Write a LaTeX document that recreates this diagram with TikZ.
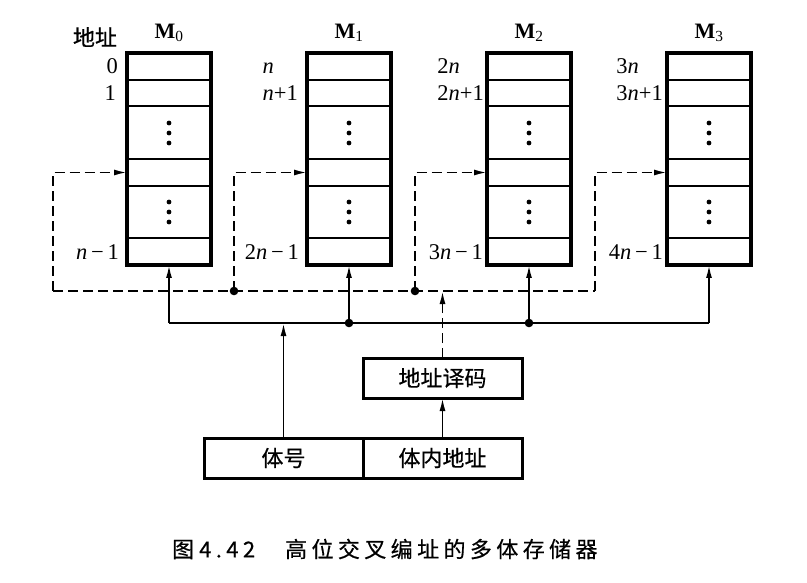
\documentclass[tikz,border=0pt]{standalone}
\usepackage{fontspec}
\setmainfont{Liberation Serif}
\newfontfamily\cjk[FakeBold=0.5]{Noto Sans CJK SC}
\newfontfamily\cjkcap[LetterSpace=20,FakeBold=0.5]{Noto Sans CJK SC}
\usetikzlibrary{arrows.meta}
\newcommand\nn{\textit{n}}
\begin{document}
\begin{tikzpicture}[x=1pt,y=-1pt,
  bank/.style={draw,line width=3.2pt,minimum width=84pt,minimum height=212pt,inner sep=0pt,outer sep=0pt},
  cell/.style={draw,line width=2.2pt,minimum width=84pt,inner sep=0pt,outer sep=0pt},
  lab/.style={font=\fontsize{22.5}{26}\selectfont,inner sep=0pt,text height=15pt,text depth=0pt},
  mlab/.style={font=\fontsize{22}{26}\selectfont,inner sep=0pt},
  cjklab/.style={font=\cjk\fontsize{22}{26}\selectfont,inner sep=0pt},
  fbox/.style={draw,line width=3pt,minimum width=159pt,minimum height=40pt,inner sep=0pt,outer sep=0pt,font=\cjk\fontsize{22}{26}\selectfont},
  conn/.style={line width=1.8pt},
  dashline/.style={line width=1.8pt,dash pattern=on 10pt off 5pt},
  arr/.style={-{Latex[length=13pt,width=6pt]}},
  jdot/.style={fill=black}
]
\useasboundingbox (0,0) rectangle (807,583);
\fill[white] (0,0) rectangle (807,583);

% memory banks
\foreach \i/\x in {0/169,1/349,2/529,3/709}{
  \node[cell,minimum height=27pt] (ra\i) at (\x,66.5) {};
  \node[cell,minimum height=26pt] (rb\i) at (\x,93) {};
  \node[cell,minimum height=53pt] (rc\i) at (\x,132.5) {};
  \node[cell,minimum height=27pt] (t\i) at (\x,172.5) {};
  \node[cell,minimum height=52pt] (rd\i) at (\x,212) {};
  \node[cell,minimum height=27pt] (re\i) at (\x,251.5) {};
  \node[bank] (m\i) at (\x,159) {};
  \foreach \y in {123,133,143,202,212,222} \fill (\x,\y) circle (2.4pt);
  \node[mlab] (ml\i) at (\x,33) {\textbf{M}\textsubscript{\i}};
}

% address labels
\node[cjklab] (hdr) at (95,37) {地址};
\node[lab,anchor=east] (la0) at (118,66.5) {0};
\node[lab,anchor=east] (lb0) at (116,93) {1};
\node[lab,anchor=east] (le0) at (119,251.5) {\nn\,−\,1};

\node[lab,anchor=east] (lb1) at (298,93) {\nn+1};
\node[lab,anchor=west] (la1) at (lb1.west |- 0,66.5) {\nn};
\node[lab,anchor=east] (le1) at (299,251.5) {2\nn\,−\,1};

\node[lab,anchor=east] (lb2) at (484,93) {2\nn+1};
\node[lab,anchor=west] (la2) at (lb2.west |- 0,66.5) {2\nn};
\node[lab,anchor=east] (le2) at (483,251.5) {3\nn\,−\,1};

\node[lab,anchor=east] (lb3) at (663,93) {3\nn+1};
\node[lab,anchor=west] (la3) at (lb3.west |- 0,66.5) {3\nn};
\node[lab,anchor=east] (le3) at (663,251.5) {4\nn\,−\,1};

% bottom boxes
\node[fbox] (bank) at (283.5,458) {体号};
\node[fbox] (inner) at (442.5,458) {体内地址};
\node[fbox] (dec) at (442.5,378) {地址译码};

% solid bus
\coordinate (s0) at (169,323);
\coordinate (j1) at (349,323);
\coordinate (j2) at (529,323);
\coordinate (s3) at (709,323);
\draw[conn] (s0) -- (s3);
\draw[conn,arr] (s0) -- (m0.south);
\draw[conn,arr] (j1) -- (m1.south);
\draw[conn,arr] (j2) -- (m2.south);
\draw[conn,arr] (s3) -- (m3.south);
\draw[conn,arr] (bank.north) -- (bank.north |- s0);
\draw[conn,arr] (inner.north) -- (dec.south);
\fill[jdot] (j1) circle (4.3pt);
\fill[jdot] (j2) circle (4.3pt);

% dashed bus
\coordinate (d0) at (53,291);
\coordinate (d1) at (234,291);
\coordinate (d2) at (415,291);
\coordinate (d3) at (595,291);
\draw[dashline] (d0) -- (d3);
\foreach \i in {0,1,2,3}{
  \draw[dashline,arr] (d\i) |- (t\i.west);
}
\draw[dashline,arr] (dec.north) -- (dec.north |- d0);
\fill[jdot] (d1) circle (4.3pt);
\fill[jdot] (d2) circle (4.3pt);

% caption
\node[anchor=west,inner sep=0pt,font=\cjkcap\fontsize{22}{26}\selectfont] (cap) at (172,549) {图\kern5pt 4.42\kern30pt 高位交叉编址的多体存储器};
\end{tikzpicture}
\end{document}
